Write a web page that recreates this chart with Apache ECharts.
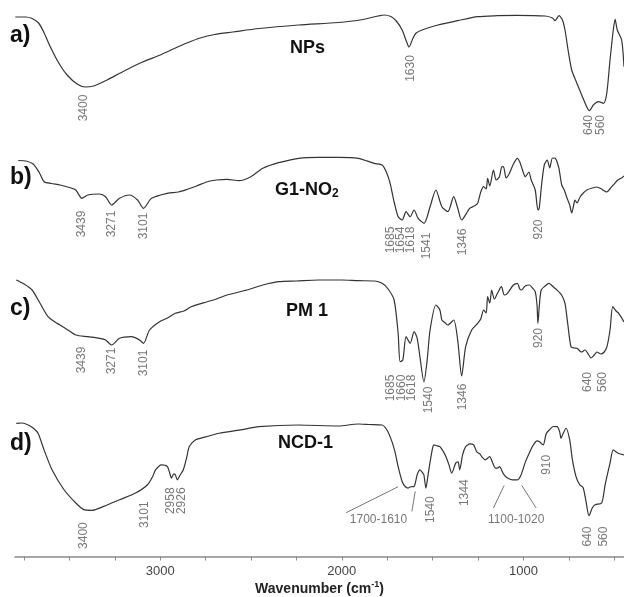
<!DOCTYPE html>
<html lang="en">
<head>
<meta charset="UTF-8">
<title>FTIR spectra</title>
<script src="https://cdn.jsdelivr.net/npm/echarts@6/dist/echarts.min.js"></script>
<style>
    html, body { margin: 0; padding: 0; background: #fff; }
    #main { width: 624px; height: 597px; }
</style>
</head>
<body>
<div id="main"></div>
<script>
    // spectra: [wavenumber (cm-1), transmittance (a.u., per panel)]
    var specA = [
        [3798,98],[3740,98],[3706,96.5],[3670,92],[3642,83],[3605,68],[3559,52],[3513,40],[3458,31],[3413,28],
        [3367,29],[3293,35],[3220,42],[3110,52],[3000,60],[2928,66],[2853,72],[2780,77],[2700,80.5],[2600,83],
        [2457,86.5],[2238,90],[2020,92.5],[1900,95],[1800,99],[1767,100],[1730,98.5],[1700,94],[1668,85],[1645,74],
        [1630,68],[1610,76],[1592,81.7],[1558,85],[1471,90],[1362,94.3],[1252,98.3],[1145,99.3],[1035,99.7],[880,99],
        [840,97],[826,94.3],[804,99.3],[785,95],[771,85],[754,65],[734,45],[706,32],[679,20],[651,8],
        [637,4.3],[625,7],[615,10],[587,13.3],[559,11.7],[541,21.7],[523,55],[505,85],[495,95.7],[483,85],
        [459,75],[446,48.3]
    ];
    var specB = [
        [3782,69.5],[3740,69],[3700,66],[3665,57],[3640,48.3],[3600,46.5],[3552,45],[3500,42.5],[3465,40],[3432,31.7],
        [3399,35],[3334,36],[3301,33.3],[3268,25],[3224,31.7],[3169,35],[3125,30],[3092,21.7],[3048,31.7],[2961,36.7],
        [2900,38],[2851,40.7],[2800,44],[2741,48.3],[2690,50],[2632,50.7],[2566,49.3],[2501,53.3],[2435,61.7],[2348,67.3],
        [2238,71.7],[2129,72.7],[2019,72.7],[1910,71.7],[1822,66.7],[1778,65],[1755,58],[1734,46.7],[1712,28],[1690,13.3],
        [1668,10],[1646,18.3],[1624,13.3],[1602,20],[1580,11.7],[1547,6.7],[1514,23.3],[1482,40],[1449,23.3],[1416,18.3],
        [1384,33.3],[1362,22],[1340,10],[1296,21.7],[1270,24],[1252,26.7],[1235,38],[1219,43.3],[1205,41],[1197,51.7],
        [1185,44],[1165,60],[1150,50],[1132,53.3],[1120,63],[1110,63.3],[1095,52],[1077,56.7],[1055,66],[1033,71.7],
        [1020,68],[1011,63.3],[989,53.3],[970,58],[957,50],[935,40],[920,20],[913,21.7],[900,45],[885,65],
        [869,70],[855,62],[840,72],[825,71.7],[805,62],[789,45],[775,40],[760,32],[745,25],[734,17],
        [724,24],[716,30],[705,27],[688,33],[670,37],[651,40],[620,42],[596,43],[570,41],[541,38],
        [520,42],[505,45],[480,50],[459,52],[446,54]
    ];
    var specC = [
        [3793,105],[3750,101],[3706,95],[3662,81.7],[3618,68.3],[3580,63],[3552,60],[3500,54],[3465,50],[3399,48.3],
        [3334,46.7],[3301,45],[3268,40],[3224,46.7],[3158,48.3],[3114,45],[3092,41.7],[3059,55],[3004,63.3],[2960,67],
        [2917,71.7],[2870,74],[2830,78.3],[2741,83.3],[2690,86],[2632,90],[2523,95],[2435,100],[2348,103.3],[2250,104],
        [2129,105],[2000,105],[1910,104.3],[1820,104],[1778,101.7],[1745,96],[1712,85],[1690,51.7],[1679,23.3],[1664,25],
        [1646,48.3],[1624,41.7],[1602,53.3],[1585,46.7],[1570,28.3],[1548,3],[1530,25],[1514,55],[1482,80],[1460,75],
        [1449,65],[1430,62],[1416,60],[1384,65],[1362,45],[1340,9],[1318,38.3],[1285,55],[1252,61.7],[1235,66],
        [1219,75],[1205,72],[1197,88.3],[1185,82],[1175,95],[1160,86],[1143,91.7],[1121,98.3],[1105,90],[1088,91.7],
        [1055,100],[1033,101.7],[1020,96],[1011,95],[990,99],[967,100],[950,97],[935,93.3],[925,80],[920,61.7],
        [912,80],[902,95],[880,99],[859,101.7],[835,98],[815,95],[790,90],[771,81.7],[755,60],[738,38.3],
        [720,37],[705,36.7],[680,33],[661,35],[640,30],[628,27],[610,30],[595,33],[573,31],[555,33],
        [540,38.3],[523,55],[508,78.3],[490,74],[475,71.7],[446,63]
    ];
    var specD = [
        [3793,96.7],[3760,97],[3727,95],[3700,92],[3673,86.7],[3640,70],[3596,50],[3530,30],[3465,16.7],[3421,10],
        [3377,9.3],[3311,13.3],[3224,20],[3136,26.7],[3070,35],[3040,44],[3026,50],[2993,55],[2961,53.3],[2945,45],
        [2939,41.7],[2925,46],[2917,45],[2906,40],[2890,45],[2873,50],[2855,62],[2840,73.3],[2807,80],[2750,83],
        [2676,86.7],[2560,90],[2457,93.3],[2238,95],[2019,94],[1910,96],[1850,95.5],[1778,95],[1755,91],[1734,83.3],
        [1710,70],[1690,53.3],[1668,38.3],[1650,33],[1635,31.7],[1620,33],[1602,33.3],[1585,45],[1570,50],[1555,47],
        [1548,45],[1537,31.7],[1525,45],[1515,56.7],[1500,72],[1493,75],[1475,74],[1460,73.3],[1440,68],[1427,63.3],
        [1410,55],[1395,46.7],[1373,56.7],[1360,58],[1351,50],[1335,65],[1318,73.3],[1295,76],[1274,75],[1257,68],
        [1240,66],[1230,63.3],[1210,60],[1186,63.3],[1165,55],[1153,51.7],[1140,52],[1132,53.3],[1110,46],[1088,41.7],
        [1060,40],[1033,40],[1015,44],[989,58],[965,68],[945,75],[925,79],[913,78.3],[891,75],[875,86],
        [858,90],[835,93.5],[814,93.3],[800,88],[793,81.7],[780,87],[765,91.7],[745,80],[730,60],[710,43],
        [690,35],[671,32],[655,18],[639,4],[620,12],[605,15],[569,16.7],[550,35],[523,56.7],[505,70],
        [478,66.7],[446,65]
    ];

    // peak labels: [wavenumber, transmittance, text]
    var labelsA = [[3420,7,'3400'],[1622,46.5,'1630'],[640,-10,'640'],[574,-10,'560']];
    var labelsB = [[3431,6,'3439'],[3270,6,'3271'],[3094,4,'3101'],[1733,-10,'1685'],[1678,-10,'1654'],
        [1623,-10,'1618'],[1532,-16,'1541'],[1336,-12,'1346'],[915,0.5,'920']];
    var labelsC = [[3435,25,'3439'],[3270,24,'3271'],[3094,22,'3101'],[1733,-3,'1685'],[1673,-3,'1660'],
        [1615,-3,'1618'],[1524,-15,'1540'],[1335,-12,'1346'],[915,47,'920'],[648,3,'640'],[563,3,'560']];
    var labelsD = [[3424,-16,'3400'],[3088,5,'3101'],[2945,19,'2958'],[2880,19,'2926'],[1513,10,'1540'],
        [1326,27,'1344'],[872,55,'910'],[644,-17,'640'],[556,-17,'560']];
    var rangeLabelsD = [[1798,0,'1700-1610'],[1040,0,'1100-1020']];
    var leadersD = [[[1976,7],[1690,33]],[[1614,8.3],[1596,28.3]],[[1165,11.7],[1106,34.3]],[[930,11.7],[1009,34.3]]];

    var tickValues = [3750,3500,3250,3000,2750,2500,2250,2000,1750,1500,1250,1000,750,500];
    var tickLabels = [3000,2000,1000];

    var font = "'Liberation Sans', Arial, sans-serif";
    var specs = [specA, specB, specC, specD];
    var labels = [labelsA, labelsB, labelsC, labelsD];
    var panelTop = [10, 150, 275, 420];
    var panelHeight = [105, 80, 110, 137];
    var yRange = [[0,105],[0,80],[0,110],[-37,100]];

    var myChart = echarts.init(document.getElementById('main'));

    var grids = [], xAxes = [], yAxes = [], series = [];
    for (var i = 0; i < 4; i++) {
        grids.push({left: 15, right: 0, top: panelTop[i], height: panelHeight[i]});
        var last = (i === 3);
        xAxes.push({
            type: 'value', gridIndex: i, inverse: true, min: 446, max: 3800,
            show: last,
            splitLine: {show: false},
            axisLine: {show: true, onZero: false, lineStyle: {color: '#8a8a8a', width: 1.5}},
            axisTick: {show: true, customValues: tickValues, length: 4, lineStyle: {color: '#8a8a8a'}},
            axisLabel: {
                customValues: tickLabels, color: '#444', fontSize: 13, fontFamily: font, margin: 8,
                formatter: function (v) { return String(v); }
            },
            name: last ? 'Wavenumber (cm{sup|-1})' : '',
            nameLocation: 'middle', nameGap: 24,
            nameTextStyle: {
                color: '#222', fontSize: 14, fontWeight: 'bold', fontFamily: font,
                rich: {sup: {fontSize: 9, fontWeight: 'bold', color: '#222', fontFamily: font, padding: [0, 0, 8, 0]}}
            }
        });
        yAxes.push({type: 'value', gridIndex: i, show: false, min: yRange[i][0], max: yRange[i][1]});
        series.push({
            type: 'line', xAxisIndex: i, yAxisIndex: i, data: specs[i],
            showSymbol: false, smooth: 0.25, silent: true,
            lineStyle: {color: '#333', width: 1.2}
        });
        series.push({
            type: 'scatter', xAxisIndex: i, yAxisIndex: i, silent: true, clip: false,
            symbolSize: 1, itemStyle: {color: 'transparent'},
            data: labels[i].map(function (d) { return {value: [d[0], d[1]], name: d[2]}; }),
            label: {
                show: true, position: 'inside', rotate: 90, formatter: '{b}',
                color: '#555', fontSize: 12, fontFamily: font
            }
        });
    }
    // horizontal range labels with leader lines in panel d
    series.push({
        type: 'scatter', xAxisIndex: 3, yAxisIndex: 3, silent: true, clip: false,
        symbolSize: 1, itemStyle: {color: 'transparent'},
        data: rangeLabelsD.map(function (d) { return {value: [d[0], d[1]], name: d[2]}; }),
        label: {show: true, position: 'inside', formatter: '{b}', color: '#555', fontSize: 12, fontFamily: font},
        markLine: {
            silent: true, symbol: 'none', animation: false,
            label: {show: false},
            lineStyle: {color: '#777', width: 1, type: 'solid'},
            data: leadersD.map(function (l) { return [{coord: l[0]}, {coord: l[1]}]; })
        }
    });

    var letterStyle = {fontSize: 23, fontWeight: 'bold', color: '#111', fontFamily: font};
    var nameStyle = {fontSize: 18, fontWeight: 'bold', color: '#111', fontFamily: font};
    var option = {
        animation: false,
        backgroundColor: '#fff',
        title: [
            {text: 'a)', left: 10, top: 24, padding: 0, textStyle: letterStyle},
            {text: 'b)', left: 10, top: 166, padding: 0, textStyle: letterStyle},
            {text: 'c)', left: 10, top: 297, padding: 0, textStyle: letterStyle},
            {text: 'd)', left: 10, top: 432, padding: 0, textStyle: letterStyle},
            {text: 'NPs', left: 290, top: 39, padding: 0, textStyle: nameStyle},
            {text: '{m|G1-NO}{s|2}', left: 275, top: 180, padding: 0, textStyle: {
                rich: {
                    m: nameStyle,
                    s: {fontSize: 12, fontWeight: 'bold', color: '#111', fontFamily: font, padding: [8, 0, 0, 0]}
                }
            }},
            {text: 'PM 1', left: 286, top: 302, padding: 0, textStyle: nameStyle},
            {text: 'NCD-1', left: 278, top: 434, padding: 0, textStyle: nameStyle}
        ],
        grid: grids,
        xAxis: xAxes,
        yAxis: yAxes,
        series: series
    };

    myChart.setOption(option);
</script>
</body>
</html>
